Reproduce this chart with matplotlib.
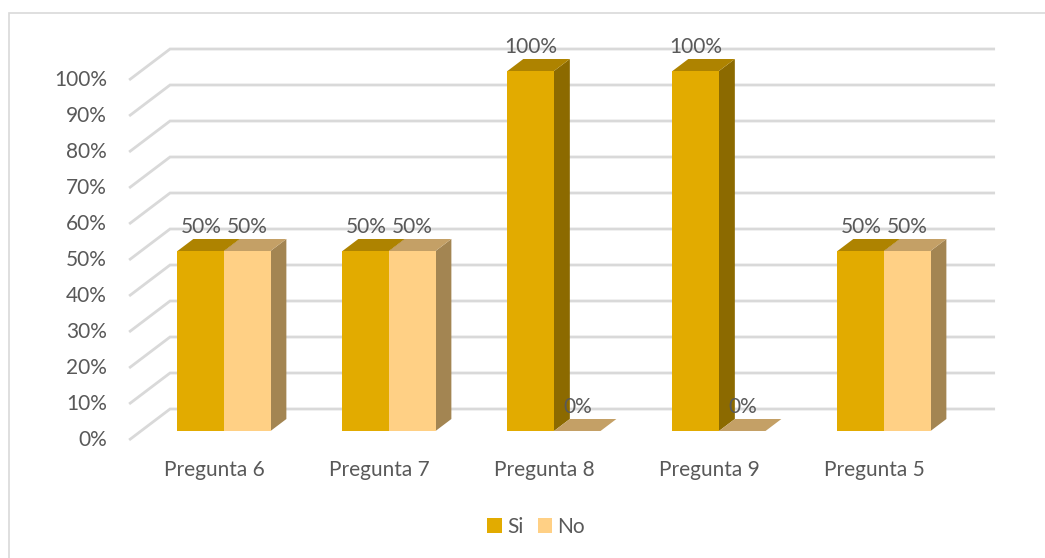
import matplotlib.pyplot as plt
from matplotlib.patches import Polygon, Rectangle, Patch

plt.rcParams['font.family'] = ['Lato', 'DejaVu Sans']

# datos
categories = ['Pregunta 6', 'Pregunta 7', 'Pregunta 8', 'Pregunta 9', 'Pregunta 5']
si_values = [50, 50, 100, 100, 50]
no_values = [50, 50, 0, 0, 50]
y_ticks = [0, 10, 20, 30, 40, 50, 60, 70, 80, 90, 100]

# colores (frente, arriba, lado)
si_cols = ('#E2AB00', '#AE8300', '#8C6A00')
no_cols = ('#FFD085', '#C4A066', '#A38552')
grid_col = '#D9D9D9'
text_col = '#595959'
FS = 15

# escala: 1 categoria = 165 px, 1% = 3.6 px
PX_X = 165.0
PX_Y = 3.6
KX = 1.32 / PX_X     # desplazamiento de profundidad por px
KY = 1.0 / PX_Y
BW = 0.282           # ancho de cada barra
BAR_DEPTH = 12
XL = -0.503
XR = 4.497


def proj(x, y, d):
    return (x + d * KX, y + d * KY)


fig = plt.figure(figsize=(10.45, 5.58), dpi=100)
ax = fig.add_axes([0, 0, 1, 1])
ax.set_xlim(-224 / PX_X, (1045 - 224) / PX_X)
ax.set_ylim((431 - 558) / PX_Y, 431 / PX_Y)
ax.axis('off')

# borde del grafico
fig.patches.append(Rectangle((9 / 1045, -0.1), 1.2, 1 - 12.5 / 558 + 0.1,
                             transform=fig.transFigure, fill=False,
                             edgecolor='#D9D9D9', linewidth=1.2))

# lineas de cuadricula (pared izquierda + pared de fondo)
for v in y_ticks:
    pts = [proj(XL, v, -9), proj(XL, v, 22), proj(XR, v, 22)]
    ax.plot([p[0] for p in pts], [p[1] for p in pts], color=grid_col,
            linewidth=2, solid_capstyle='butt', solid_joinstyle='miter', zorder=1)
    fx, fy = proj(XL, v, -9)
    ax.text(fx - 22 / PX_X, fy, f'{v}%', ha='right', va='center',
            fontsize=FS, color=text_col)


def draw_bar(x0, v, cols):
    x1 = x0 + BW
    ax.add_patch(Polygon([(x1, 0), (x1, v), proj(x1, v, BAR_DEPTH), proj(x1, 0, BAR_DEPTH)],
                         closed=True, facecolor=cols[2], edgecolor='none', zorder=3))
    ax.add_patch(Rectangle((x0, 0), BW, v, facecolor=cols[0], edgecolor='none', zorder=3))
    ax.add_patch(Polygon([(x0, v), (x1, v), proj(x1, v, BAR_DEPTH), proj(x0, v, BAR_DEPTH)],
                         closed=True, facecolor=cols[1], edgecolor='none', zorder=3))


for i, cat in enumerate(categories):
    draw_bar(i - BW, si_values[i], si_cols)
    draw_bar(i, no_values[i], no_cols)
    ax.text(i - BW / 2, si_values[i] + 6.6, f'{si_values[i]}%', ha='center', va='center',
            fontsize=FS, color=text_col, zorder=5)
    ax.text(i + BW / 2, no_values[i] + 6.6, f'{no_values[i]}%', ha='center', va='center',
            fontsize=FS, color=text_col, zorder=5)
    ax.text(i - 0.06, -10.8, cat, ha='center', va='center', fontsize=FS, color=text_col)

handles = [Patch(facecolor=si_cols[0], label='Si'), Patch(facecolor=no_cols[0], label='No')]
fig.legend(handles=handles, loc='center', bbox_to_anchor=(536 / 1045, 1 - 527 / 558),
           ncol=2, frameon=False, fontsize=FS, handlelength=0.7, handleheight=0.7,
           handletextpad=0.25, columnspacing=0.7, labelcolor=text_col)

fig.savefig('out.png', dpi=100, facecolor='white')
